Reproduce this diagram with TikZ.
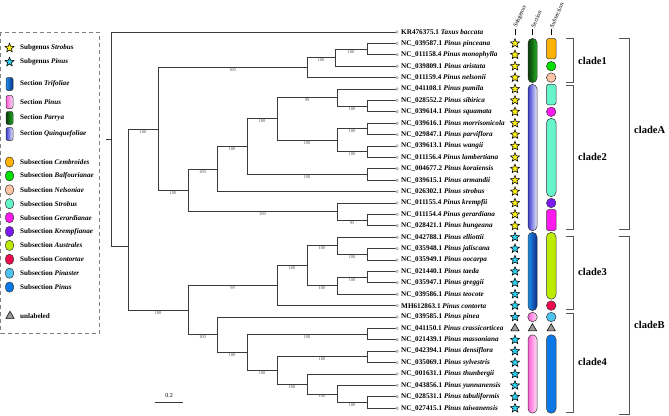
\documentclass[tikz,border=0pt]{standalone}
\usepackage{fontspec}
\setmainfont{Liberation Serif}
\usepackage{tikz}
\usetikzlibrary{shapes.geometric,calc}
\definecolor{brgray}{HTML}{3A3A3A}
\definecolor{bsgray}{HTML}{505050}
\definecolor{brkgray}{HTML}{555555}
\definecolor{stY}{HTML}{FFF21A}
\definecolor{stC}{HTML}{2ED0F0}
\definecolor{trigray}{HTML}{9A9A9A}
\definecolor{cembr}{HTML}{FFB300}
\definecolor{balf}{HTML}{00E000}
\definecolor{nels}{HTML}{FFC4A6}
\definecolor{strob}{HTML}{66F5C8}
\definecolor{gerar}{HTML}{FF1AF0}
\definecolor{kremp}{HTML}{7A1AF0}
\definecolor{austr}{HTML}{BDEB00}
\definecolor{conto}{HTML}{EE0A4C}
\definecolor{pinast}{HTML}{4DC3F0}
\definecolor{pinsub}{HTML}{0A78E6}
\definecolor{trifL}{HTML}{1C8FEA}
\definecolor{trifR}{HTML}{0B2C8C}
\definecolor{secpL}{HTML}{FF5CD6}
\definecolor{secpR}{HTML}{FFE0F6}
\definecolor{parL}{HTML}{0A3A0A}
\definecolor{parR}{HTML}{22B022}
\definecolor{quiL}{HTML}{3A3AD0}
\definecolor{quiR}{HTML}{ECECFF}

\begin{document}
\begin{tikzpicture}[x=1pt,y=-1pt,
  br/.style={draw=brgray,line width=0.9pt},
  bs/.style={font=\fontsize{4.5}{5}\selectfont,text=bsgray,inner sep=0.6pt,below},
  tipc/.style={circle,draw=gray,fill=white,line width=0.4pt,inner sep=0pt,minimum size=2.6pt},
  tiplab/.style={anchor=west,font=\fontsize{7.2}{8}\selectfont\bfseries,inner sep=0pt},
  lgd/.style={anchor=west,font=\fontsize{7.1}{8}\selectfont\bfseries,inner sep=0pt},
  hdr/.style={anchor=west,rotate=66,font=\fontsize{6}{7}\selectfont,inner sep=0.5pt},
  cld/.style={anchor=west,font=\fontsize{10.5}{12}\selectfont\bfseries,inner sep=0pt},
  brk/.style={draw=brkgray,line width=0.9pt},
  starY/.style={star,star points=5,star point ratio=2.3,draw=black,fill=stY,line width=0.55pt,inner sep=0pt,minimum size=9.5pt},
  starC/.style={starY,fill=stC},
  tri/.style={regular polygon,regular polygon sides=3,draw=black,fill=trigray,line width=0.55pt,inner sep=0pt,minimum size=9.5pt},
  dot/.style={circle,draw=black!80,line width=0.5pt,inner sep=0pt,minimum size=9.5pt},
  pill/.style={draw=black!80,line width=0.5pt,rounded corners=4.5pt},
  pbox/.style={draw=black!80,line width=0.5pt,rounded corners=1.5pt},
]
\useasboundingbox (0,0) rectangle (669,415);

% legend
\draw[draw=gray,line width=0.7pt,dash pattern=on 4pt off 3pt] (0.7,32) rectangle (99.3,333);
\node[starY] (lgS) at (9.5,48) {}; \node[lgd] at (20,48) {Subgenus \textit{Strobus}};
\node[starC] (lgP) at (9.5,62) {}; \node[lgd] at (20,62) {Subgenus \textit{Pinus}};
\foreach \y/\cl/\cr/\nm in {84/trifL/trifR/Trifoliae,102/secpL/secpR/Pinus,118/parL/parR/Parrya,134/quiL/quiR/Quinquefoliae} {
  \path[draw=black!80,line width=0.5pt,rounded corners=2pt,left color=\cl,right color=\cr] (6,\y-6.5) rectangle (13,\y+6.5);
  \node[lgd] at (20,\y) {Section \textit{\nm}};
}
\foreach \k/\col/\nm in {0/cembr/Cembroides,1/balf/Balfourianae,2/nels/Nelsoniae,3/strob/Strobus,4/gerar/Gerardianae,5/kremp/Krempfianae,6/austr/Australes,7/conto/Contortae,8/pinast/Pinaster,9/pinsub/Pinus} {
  \draw[pill,rounded corners=3.8pt,fill=\col] (5.5,{162+13.9*\k-5}) rectangle (13.5,{162+13.9*\k+5});
  \node[lgd] at (20,{162+13.9*\k}) {Subsection \textit{\nm}};
}
\node[tri] (lgT) at (10,316) {}; \node[lgd] at (20,316) {unlabeled};

% tips
\foreach \i/\acc/\sp in {0/KR476375.1/Taxus baccata,1/NC\_039587.1/Pinus pinceana,2/NC\_011158.4/Pinus monophylla,3/NC\_039809.1/Pinus aristata,4/NC\_011159.4/Pinus nelsonii,5/NC\_041108.1/Pinus pumila,6/NC\_028552.2/Pinus sibirica,7/NC\_039614.1/Pinus squamata,8/NC\_039616.1/Pinus morrisonicola,9/NC\_029847.1/Pinus parviflora,10/NC\_039613.1/Pinus wangii,11/NC\_011156.4/Pinus lambertiana,12/NC\_004677.2/Pinus koraiensis,13/NC\_039615.1/Pinus armandii,14/NC\_026302.1/Pinus strobus,15/NC\_011155.4/Pinus krempfii,16/NC\_011154.4/Pinus gerardiana,17/NC\_028421.1/Pinus bungeana,18/NC\_042788.1/Pinus elliottii,19/NC\_035948.1/Pinus jaliscana,20/NC\_035949.1/Pinus oocarpa,21/NC\_021440.1/Pinus taeda,22/NC\_035947.1/Pinus greggii,23/NC\_039586.1/Pinus teocote,24/MH612863.1/Pinus contorta,25/NC\_039585.1/Pinus pinea,26/NC\_041150.1/Pinus crassicorticea,27/NC\_021439.1/Pinus massoniana,28/NC\_042394.1/Pinus densiflora,29/NC\_035069.1/Pinus sylvestris,30/NC\_001631.1/Pinus thunbergii,31/NC\_043856.1/Pinus yunnanensis,32/NC\_028531.1/Pinus tabuliformis,33/NC\_027415.1/Pinus taiwanensis} {
  \coordinate (t\i) at (397,{32+11.4*\i});
  \node[tiplab] (lab\i) at (401,{32+11.4*\i}) {\acc\ \textit{\sp}};
}

% internal nodes
\coordinate (rs) at (106,139); \coordinate (rt) at (111,139);
\coordinate (ing) at (128,246);
\coordinate (strA) at (158,129);
\coordinate (cl1) at (307,67.6); \coordinate (pma) at (335,57.65); \coordinate (pm) at (367,49.1);
\coordinate (str2) at (188,190.35); \coordinate (kg) at (337,211.55); \coordinate (gb) at (367,220.1);
\coordinate (str3) at (217,169.15); \coordinate (str4) at (247,146.7); \coordinate (ka) at (367,174.5);
\coordinate (str5) at (277,118.9); \coordinate (pss) at (337,97.55); \coordinate (ss) at (367,106.1);
\coordinate (mpwl) at (337,140.3); \coordinate (mp) at (367,128.9); \coordinate (wl) at (367,151.7);
\coordinate (pinB) at (188,310.15); \coordinate (tr) at (277,285.65); \coordinate (au) at (307,265.7);
\coordinate (ejo) at (337,245.75); \coordinate (jo) at (367,254.3);
\coordinate (tgt) at (337,285.65); \coordinate (tg) at (367,277.1);
\coordinate (pc) at (217,334.64); \coordinate (cmd) at (247,352.27); \coordinate (cm) at (367,334.1);
\coordinate (dthy) at (277,370.44); \coordinate (ds) at (367,356.9);
\coordinate (thy) at (307,383.98); \coordinate (yyt) at (337,393.95); \coordinate (yt) at (367,402.5);

% branches
\draw[br] (rs) -- (rt);
\draw[br] (rt) |- (ing);
\foreach \a/\b/\v in {ing/strA/100,ing/pinB/100,strA/cl1/100,cl1/pma/100,pma/pm/100,strA/str2/100,str2/str3/100,str2/kg/100,kg/gb/95,str3/str4/100,str4/str5/100,str4/ka/100,str5/pss/99,str5/mpwl/100,pss/ss/100,mpwl/mp/100,mpwl/wl/100,pinB/tr/99,pinB/pc/100,tr/au/100,au/ejo/100,au/tgt/100,ejo/jo/100,tgt/tg/100,pc/cmd/100,cmd/cm/100,cmd/dthy/100,dthy/ds/100,dthy/thy/100,thy/yyt/100,yyt/yt/100}
  {\draw[br] (\a) |- (\b) node[bs,pos=.75] {\v};}
\foreach \a/\b in {rt/t0,cl1/t4,pma/t3,pm/t1,pm/t2,pss/t5,ss/t6,ss/t7,mp/t8,mp/t9,wl/t10,wl/t11,ka/t12,ka/t13,str3/t14,kg/t15,gb/t16,gb/t17,ejo/t18,jo/t19,jo/t20,tg/t21,tg/t22,tgt/t23,tr/t24,pc/t25,cm/t26,cm/t27,ds/t28,ds/t29,thy/t30,yyt/t31,yt/t32,yt/t33}
  {\draw[br] (\a) |- (\b);}
\foreach \i in {0,...,33} {\node[tipc] (m\i) at (t\i) {};}

% scale bar
\coordinate (sb1) at (155,402); \coordinate (sb2) at (183,402);
\draw[br,line width=0.8pt] (sb1) -- (sb2);
\node[font=\fontsize{6}{7}\selectfont,inner sep=0pt] (sbl) at (169,396) {0.2};

% column headers
\foreach \x/\n/\t in {515/hA/Subgenus,532.5/hB/Section,551/hC/Subsection} {
  \node[hdr] (\n) at (\x,28) {\t};
  \coordinate (\n k) at (\x,35);
  \draw[line width=0.5pt] (\x,28.5) -- (\n k);
}

% subgenus
\foreach \i in {1,...,17} {\node[starY] (sg\i) at (515,{32+11.4*\i}) {};}
\foreach \i in {18,...,25} {\node[starC] (sg\i) at (515,{32+11.4*\i}) {};}
\foreach \i in {27,...,33} {\node[starC] (sg\i) at (515,{32+11.4*\i}) {};}
\foreach \x/\n in {515/a,532.5/b,551.2/c} {\node[tri] (tri\n) at (\x,328.4) {};}

% section
\path[pill,left color=parL,right color=parR] (528,38.4) rectangle (537,82.6);
\path[pill,left color=quiL,right color=quiR] (528,84.4) rectangle (537,230.8);
\path[pill,left color=trifL,right color=trifR] (528,232.4) rectangle (537,310.6);
\node[dot,left color=secpL,right color=secpR] (secPinea) at (532.5,317) {};
\path[pill,left color=secpL,right color=secpR] (528,334.8) rectangle (537,413.2);

% subsection
\path[pbox,fill=cembr] (546.5,38.6) rectangle (556,58.8);
\node[dot,fill=balf] (sbB) at (551.2,66.2) {};
\node[dot,fill=nels] (sbN) at (551.2,77.6) {};
\path[pbox,fill=strob] (546.5,84.4) rectangle (556,104.8);
\node[dot,fill=gerar] (sbG) at (551.2,111.8) {};
\path[pill,fill=strob] (546.5,118.4) rectangle (556,196.6);
\node[dot,fill=kremp] (sbK) at (551.2,203) {};
\path[pbox,fill=gerar] (546.5,209.6) rectangle (556,230.6);
\path[pill,fill=austr] (546.5,232.4) rectangle (556,299.2);
\node[dot,fill=conto] (sbC) at (551.2,305.6) {};
\node[dot,fill=pinast] (sbP) at (551.2,317) {};
\path[pill,fill=pinsub] (546.5,334.8) rectangle (556,413.2);

% clade brackets
\foreach \n/\ya/\yb/\x/\w/\t/\ly in {c1/38/82/566/7/clade1/61,c2/85.5/229.5/566/7/clade2/157,c3/236/309/566/7/clade3/272,c4/313/412/566/7/clade4/362,cA/38/229.5/619/10/cladeA/130,cB/236/414/619/10/cladeB/325} {
  \coordinate (\n t) at (\x,\ya); \coordinate (\n b) at (\x,\yb);
  \draw[brk] (\n t) -- ++(\w,0) |- (\n b);
  \node[cld] (\n l) at (\x+\w+5,\ly) {\t};
}

\end{tikzpicture}
\end{document}
